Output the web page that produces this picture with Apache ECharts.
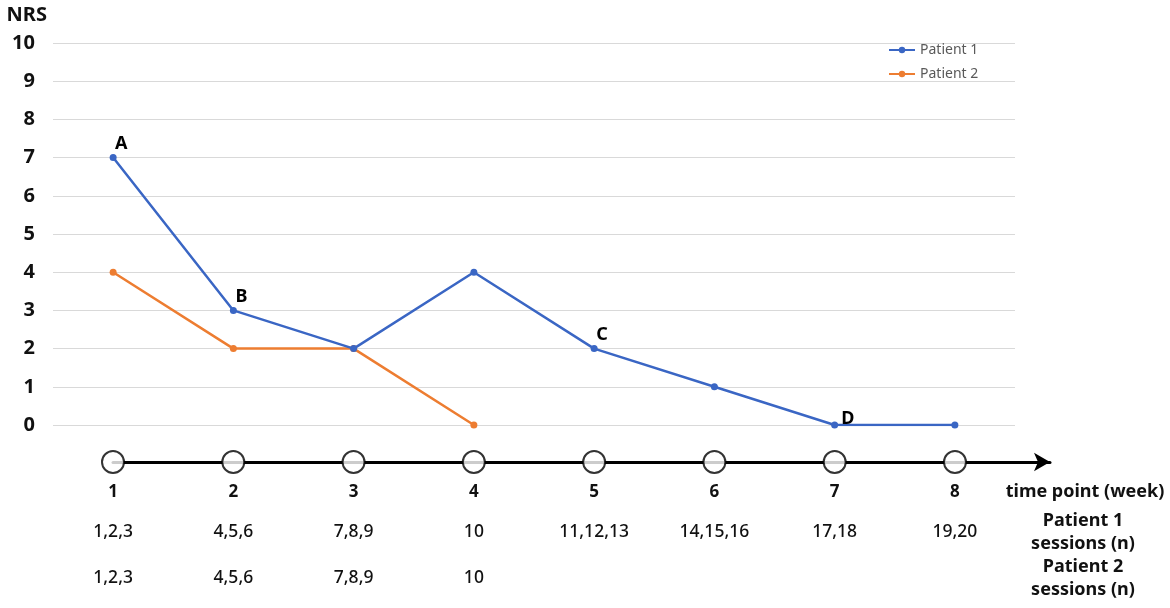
<!DOCTYPE html>
<html>
<head>
<meta charset="utf-8">
<script src="https://cdn.jsdelivr.net/npm/echarts@6/dist/echarts.min.js"></script>
<style>html,body{margin:0;padding:0;background:#fff}#c{width:1170px;height:608px}</style>
</head>
<body>
<div id="c"></div>
<script>
var weeks = ['1','2','3','4','5','6','7','8'];
var patient1 = [7,3,2,4,2,1,0,0];
var patient2 = [4,2,2,0,null,null,null,null];
var p1Sessions = ['1,2,3','4,5,6','7,8,9','10','11,12,13','14,15,16','17,18','19,20'];
var p2Sessions = ['1,2,3','4,5,6','7,8,9','10','','','',''];
var pointLabels = {0:'A',1:'B',4:'C',6:'D'};
var yTicks = [0,1,2,3,4,5,6,7,8,9,10];
var timelineX = [1,2,3,4,5,6,7,8];

var FONT = '"Noto Sans", "Open Sans", sans-serif';
var BLUE = '#3a66c4', ORANGE = '#ED7D31';

var p1Data = patient1.map(function(v,i){
  var d = {value:v};
  if (pointLabels[i]) {
    var isD = pointLabels[i] === 'D';
    d.label = {show:true, formatter:pointLabels[i], position: isD ? 'right' : 'top',
      offset: isD ? [-2,-6] : [8,4],
      fontFamily:FONT, fontWeight:'bold', fontSize:18, color:'#000'};
  }
  return d;
});

var chart = echarts.init(document.getElementById('c'));
chart.setOption({
  animation:false,
  textStyle:{fontFamily:FONT},
  legend:{
    orient:'vertical', left:883, top:38, itemGap:10, itemWidth:26, itemHeight:8,
    textStyle:{fontFamily:FONT, fontSize:14, color:'#595959'},
    data:['Patient 1','Patient 2']
  },
  grid:[
    {left:53, right:155, top:43, bottom:183},
    {left:113, right:120, top:452, height:20}
  ],
  xAxis:[
    {type:'category', gridIndex:0, data:weeks, boundaryGap:true,
     axisLine:{show:false}, axisTick:{show:false}, splitLine:{show:false},
     axisLabel:{margin:50, interval:0,
       formatter:function(v,i){ return '{w|'+v+'}\n{a|'+p1Sessions[i]+'}\n{b|'+(p2Sessions[i]||' ')+'}'; },
       rich:{
         w:{fontFamily:FONT, fontSize:17, fontWeight:'bold', color:'#111', lineHeight:34},
         a:{fontFamily:FONT, fontSize:17.5, fontWeight:500, color:'#111', lineHeight:46},
         b:{fontFamily:FONT, fontSize:17.5, fontWeight:500, color:'#111', lineHeight:46}
       }}
    },
    {type:'value', gridIndex:1, min:1, max:8.79,
     axisLine:{show:true, onZero:true, lineStyle:{color:'#000', width:3}, symbol:['none','arrow'], symbolSize:[14,16]},
     axisTick:{show:false}, axisLabel:{show:false}, splitLine:{show:false}}
  ],
  yAxis:[
    {type:'value', gridIndex:0, min:0, max:10, interval:1,
     name:'NRS', nameLocation:'end', nameGap:28,
     nameTextStyle:{fontFamily:FONT, fontSize:20, fontWeight:'bold', color:'#111', align:'right', verticalAlign:'middle', padding:[0,6,0,0]},
     axisLine:{show:false}, axisTick:{show:false},
     axisLabel:{margin:18, fontFamily:FONT, fontSize:20, fontWeight:'bold', color:'#111',
       formatter:function(v){ return yTicks.indexOf(v) >= 0 ? String(v) : ''; }},
     splitLine:{lineStyle:{color:'#d9d9d9', width:1}}
    },
    {type:'value', gridIndex:1, min:-1, max:1, show:false}
  ],
  series:[
    {name:'Patient 1', type:'line', xAxisIndex:0, yAxisIndex:0, data:p1Data,
     symbol:'circle', symbolSize:7, showSymbol:true, connectNulls:false,
     lineStyle:{color:BLUE, width:2.5}, itemStyle:{color:BLUE}, z:3},
    {name:'Patient 2', type:'line', xAxisIndex:0, yAxisIndex:0, data:patient2,
     symbol:'circle', symbolSize:7, showSymbol:true, connectNulls:false,
     lineStyle:{color:ORANGE, width:2.5}, itemStyle:{color:ORANGE}, z:2},
    {name:'timeline', type:'scatter', xAxisIndex:1, yAxisIndex:1,
     data:timelineX.map(function(x){return [x,0];}),
     symbol:'circle', symbolSize:22,
     itemStyle:{color:'#fff', borderColor:'#000', borderWidth:2}, z:5, silent:true}
  ],
  graphic:[
    {type:'text', x:1085, y:492, style:{text:'time point (week)', font:'bold 18px '+FONT, fill:'#111', align:'center', verticalAlign:'middle'}},
    {type:'text', x:1083, y:532, style:{text:'Patient 1\nsessions (n)', font:'bold 18px '+FONT, fill:'#111', align:'center', verticalAlign:'middle', lineHeight:23}},
    {type:'text', x:1083, y:578, style:{text:'Patient 2\nsessions (n)', font:'bold 18px '+FONT, fill:'#111', align:'center', verticalAlign:'middle', lineHeight:23}}
  ]
});
</script>
</body>
</html>
